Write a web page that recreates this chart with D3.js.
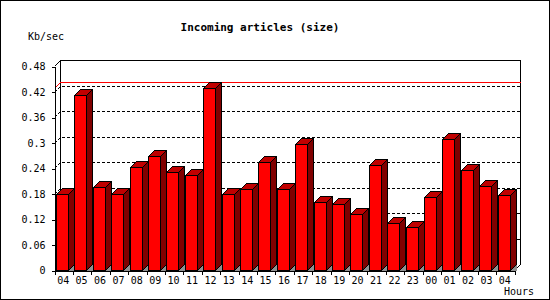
<!DOCTYPE html>
<html>
<head>
<meta charset="utf-8">
<script src="https://cdn.jsdelivr.net/npm/d3@7"></script>
<style>
    body { margin: 0; background: #fff; }
    text { font-family: "DejaVu Sans Mono", monospace; font-size: 10px; fill: #000; }
</style>
</head>
<body>
<script>
const hours = ["04", "05", "06", "07", "08", "09", "10", "11", "12", "13", "14", "15", "16",
    "17", "18", "19", "20", "21", "22", "23", "00", "01", "02", "03", "04"];
const kbPerSec = [0.178, 0.412, 0.196, 0.179, 0.242, 0.269, 0.231, 0.224, 0.428, 0.179, 0.190, 0.254, 0.190,
    0.297, 0.160, 0.155, 0.131, 0.247, 0.110, 0.101, 0.172, 0.309, 0.235, 0.198, 0.176];
const yTicks = [0, 0.06, 0.12, 0.18, 0.24, 0.3, 0.36, 0.42, 0.48];

const width = 550;
const height = 300;
const plot = { left: 54, right: 514, top: 66, bottom: 270 };
const depth = 6;

const svg =
    d3.select("body").append("svg")
        .attr("width", width)
        .attr("height", height)
        .attr("shape-rendering", "crispEdges")
    ;

svg.append("rect")
    .attr("x", 0.5).attr("y", 0.5)
    .attr("width", width - 1).attr("height", height - 1)
    .attr("fill", "#fff").attr("stroke", "#000");

const n = hours.length;
const xSlot = d3.scaleLinear().domain([0, n]).range([plot.left, plot.right]);
const xBand = d3.scaleBand().domain(d3.range(n)).range([plot.left, plot.right]);
const y = d3.scaleLinear().domain([0, 0.48]).range([plot.bottom, plot.top]);

const px = v => Math.round(v) + 0.5;

// back wall frame
svg.append("path")
    .attr("d", `M${px(plot.left)},${px(plot.top)} L${px(plot.left + depth)},${px(plot.top - depth)}
        L${px(plot.right + depth)},${px(plot.top - depth)} L${px(plot.right + depth)},${px(plot.bottom - depth)}
        L${px(plot.right)},${px(plot.bottom)}
        M${px(plot.left + depth)},${px(plot.top - depth)} L${px(plot.left + depth)},${px(plot.bottom - depth)}`)
    .attr("fill", "none").attr("stroke", "#000");

// dotted grid on the back wall
const grid = svg.append("g")
    .attr("fill", "none").attr("stroke", "#000").attr("stroke-dasharray", "3,2");
yTicks.filter(v => v > 0 && v < 0.48).forEach(v => {
    grid.append("path")
        .attr("d", `M${px(plot.left)},${px(y(v))} L${px(plot.left + depth)},${px(y(v) - depth)}
            L${px(plot.right + depth)},${px(y(v) - depth)}`);
});

// line at the maximum
const maxV = d3.max(kbPerSec);
svg.append("path")
    .attr("d", `M${px(plot.left)},${px(y(maxV))} L${px(plot.left + depth)},${px(y(maxV) - depth)}
        L${px(plot.right + depth)},${px(y(maxV) - depth)}`)
    .attr("fill", "none").attr("stroke", "#ff0000");

// 3D bars
const barW = 12;
const bars = svg.append("g").attr("stroke", "#000");
kbPerSec.forEach((v, i) => {
    const x0 = Math.round(xBand(i) + 2) + 0.5;
    const x1 = x0 + barW;
    const yt = Math.round(y(v)) + 0.5;
    const yb = plot.bottom + 0.5;
    bars.append("path")
        .attr("d", `M${x1},${yb} L${x1 + depth},${yb - depth} L${x1 + depth},${yb} Z`)
        .attr("fill", "#909090").attr("stroke", "none");
    bars.append("path")
        .attr("d", `M${x1},${yt} L${x1 + depth},${yt - depth} L${x1 + depth},${yb - depth} L${x1},${yb} Z`)
        .attr("fill", "#800000");
    bars.append("path")
        .attr("d", `M${x0},${yt} L${x0 + depth},${yt - depth} L${x1 + depth},${yt - depth} L${x1},${yt} Z`)
        .attr("fill", "#c00000");
    bars.append("rect")
        .attr("x", x0).attr("y", yt)
        .attr("width", barW).attr("height", yb - yt)
        .attr("fill", "#ff0000");
});

// axes
svg.append("g")
    .attr("transform", `translate(${plot.left + 0.5}, 0.5)`)
    .call(d3.axisLeft(y).tickValues(yTicks).tickFormat(d3.format("~g")).tickSize(3).tickSizeOuter(0).tickPadding(6))
    ;
svg.append("g")
    .attr("transform", `translate(0.5, ${plot.bottom + 0.5})`)
    .call(d3.axisBottom(xSlot).tickValues(d3.range(n + 1)).tickFormat("").tickSize(4).tickSizeOuter(0))
    ;
svg.append("g")
    .attr("transform", `translate(0, ${plot.bottom})`)
    .call(d3.axisBottom(xBand).tickFormat(i => hours[i]).tickSize(0).tickPadding(7))
    .call(g => g.select(".domain").remove())
    ;
svg.selectAll("g[font-family]").attr("font-family", null).attr("font-size", null);

svg.append("text")
    .attr("x", 260).attr("y", 31)
    .attr("text-anchor", "middle")
    .style("font-size", "11px").style("font-weight", "bold")
    .text("Incoming articles (size)");
svg.append("text")
    .attr("x", 28).attr("y", 40)
    .text("Kb/sec");
svg.append("text")
    .attr("x", 504).attr("y", 295)
    .text("Hours");
</script>
</body>
</html>
